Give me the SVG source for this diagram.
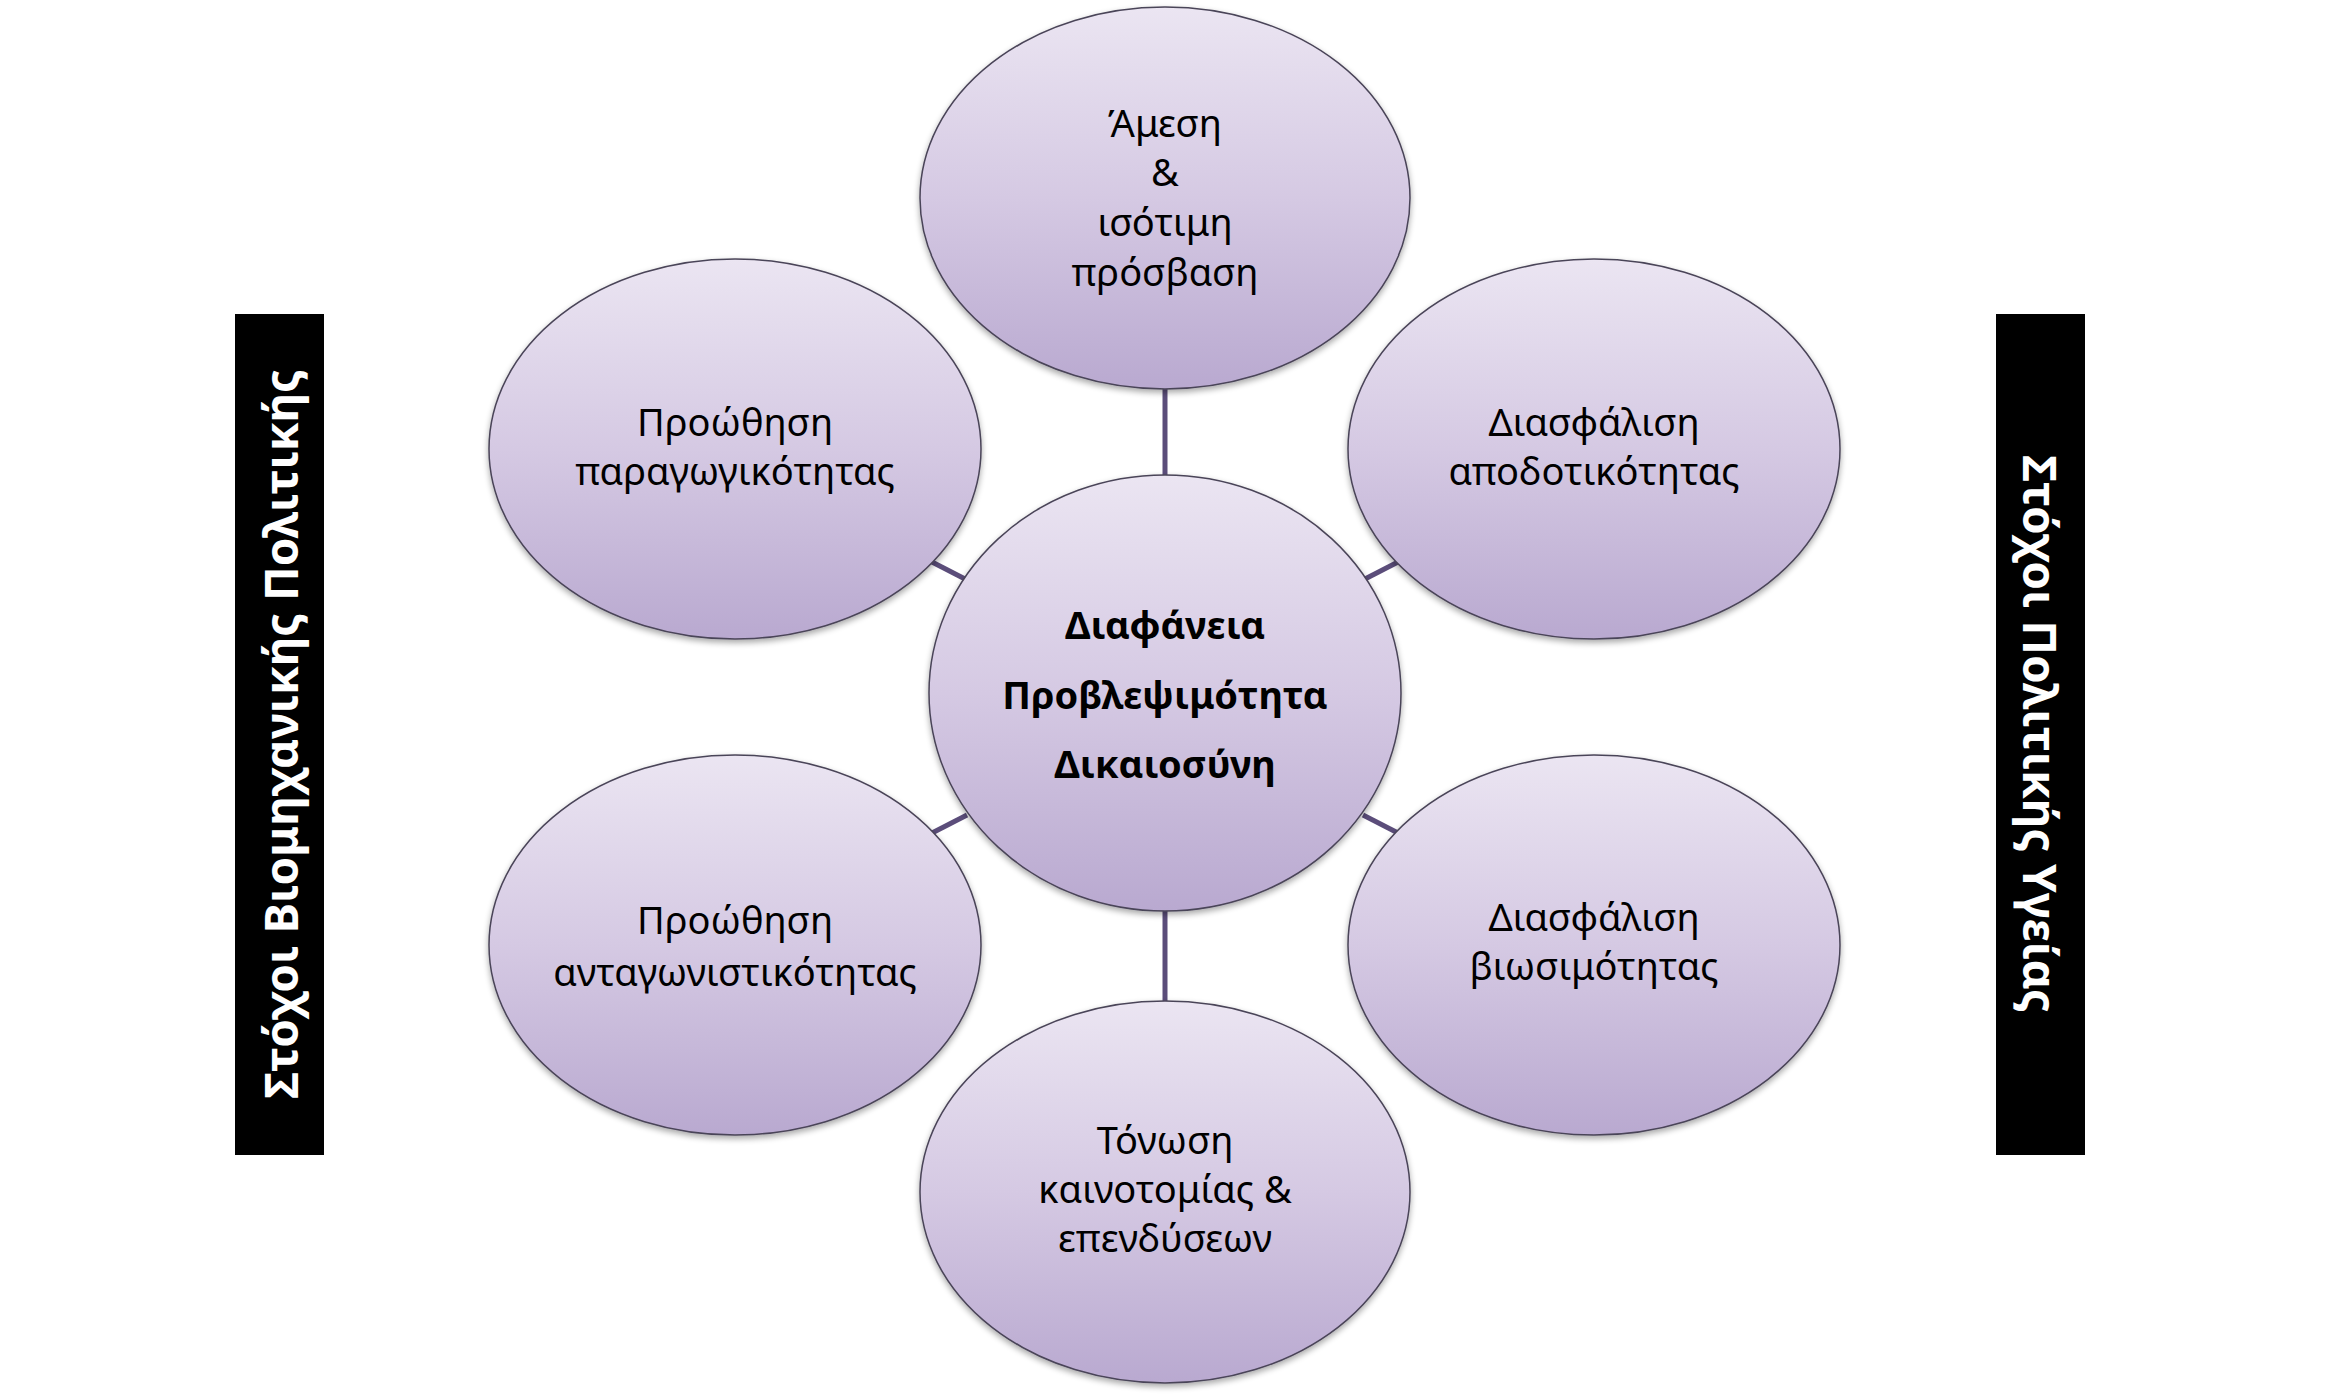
<svg xmlns="http://www.w3.org/2000/svg" width="2331" height="1397" viewBox="0 0 2331 1397">
<defs>
<linearGradient id="g" x1="0" y1="0" x2="0" y2="1">
<stop offset="0" stop-color="#ebe5f2"/>
<stop offset="0.5" stop-color="#d5c9e3"/>
<stop offset="1" stop-color="#b9a9d0"/>
</linearGradient>
<filter id="sh" x="-10%" y="-10%" width="120%" height="125%">
<feGaussianBlur in="SourceAlpha" stdDeviation="3"/>
<feOffset dx="0" dy="3"/>
<feComponentTransfer><feFuncA type="linear" slope="0.35"/></feComponentTransfer>
<feMerge><feMergeNode/><feMergeNode in="SourceGraphic"/></feMerge>
</filter>
</defs>
<style>
.n{fill:url(#g);stroke:#4a4458;stroke-width:1.5;filter:url(#sh)}
.t{font-family:"Noto Sans","Open Sans",sans-serif;font-size:38px;fill:#000;text-anchor:middle;dominant-baseline:central}
.b{font-weight:bold}
.c{stroke:#5b4d7a;stroke-width:5;fill:none}
.bar{fill:#000}
.bt{font-family:"Noto Sans","Open Sans",sans-serif;font-size:46px;font-weight:bold;fill:#fff;text-anchor:middle;dominant-baseline:central}
</style>
<rect width="2331" height="1397" fill="#fff"/>
<g id="connectors">
<line class="c" x1="1165" y1="388" x2="1165" y2="476"/>
<line class="c" x1="1165" y1="910" x2="1165" y2="1002"/>
<line class="c" x1="932" y1="562" x2="967" y2="580"/>
<line class="c" x1="1398" y1="562" x2="1363" y2="580"/>
<line class="c" x1="932" y1="833" x2="967" y2="815"/>
<line class="c" x1="1398" y1="833" x2="1363" y2="815"/>
</g>
<g id="node-top">
<ellipse class="n" cx="1165" cy="198" rx="245" ry="191"/>
<text class="t" x="1165" y="122">Άμεση</text>
<text class="t" x="1165" y="171">&amp;</text>
<text class="t" x="1165" y="221">ισότιμη</text>
<text class="t" x="1165" y="271">πρόσβαση</text>
</g>
<g id="node-upper-left">
<ellipse class="n" cx="735" cy="449" rx="246" ry="190"/>
<text class="t" x="735" y="421">Προώθηση</text>
<text class="t" x="735" y="470">παραγωγικότητας</text>
</g>
<g id="node-upper-right">
<ellipse class="n" cx="1594" cy="449" rx="246" ry="190"/>
<text class="t" x="1594" y="421">Διασφάλιση</text>
<text class="t" x="1594" y="470">αποδοτικότητας</text>
</g>
<g id="node-lower-left">
<ellipse class="n" cx="735" cy="945" rx="246" ry="190"/>
<text class="t" x="735" y="919">Προώθηση</text>
<text class="t" x="735" y="971">ανταγωνιστικότητας</text>
</g>
<g id="node-lower-right">
<ellipse class="n" cx="1594" cy="945" rx="246" ry="190"/>
<text class="t" x="1594" y="916">Διασφάλιση</text>
<text class="t" x="1594" y="965">βιωσιμότητας</text>
</g>
<g id="node-bottom">
<ellipse class="n" cx="1165" cy="1192" rx="245" ry="191"/>
<text class="t" x="1165" y="1139">Τόνωση</text>
<text class="t" x="1165" y="1188">καινοτομίας &amp;</text>
<text class="t" x="1165" y="1237">επενδύσεων</text>
</g>
<g id="node-center">
<ellipse class="n" cx="1165" cy="693" rx="236" ry="218"/>
<text class="t b" x="1165" y="624">Διαφάνεια</text>
<text class="t b" x="1165" y="694">Προβλεψιμότητα</text>
<text class="t b" x="1165" y="763">Δικαιοσύνη</text>
</g>
<g id="bar-left">
<rect class="bar" x="235" y="314" width="89" height="841"/>
<text class="bt" transform="translate(280,734) rotate(-90)">Στόχοι Βιομηχανικής Πολιτικής</text>
</g>
<g id="bar-right">
<rect class="bar" x="1996" y="314" width="89" height="841"/>
<text class="bt" transform="translate(2041,734) rotate(90)">Στόχοι Πολιτικής Υγείας</text>
</g>
</svg>
